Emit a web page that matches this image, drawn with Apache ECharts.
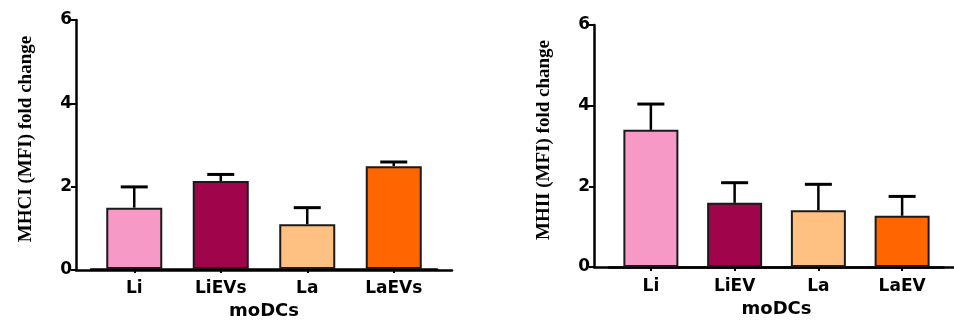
<!DOCTYPE html>
<html>
<head>
<meta charset="utf-8">
<script src="https://cdn.jsdelivr.net/npm/echarts@6/dist/echarts.min.js"></script>
<style>
html,body{margin:0;padding:0;background:#fff;}
#chart{width:954px;height:325px;}
</style>
</head>
<body>
<div id="chart"></div>
<script>
// ---- data ----
var categoriesA = ['Li', 'LiEVs', 'La', 'LaEVs'];
var valuesA = [1.48, 2.12, 1.08, 2.48];
var errorsA = [0.50, 0.16, 0.40, 0.10];
var categoriesB = ['Li', 'LiEV', 'La', 'LaEV'];
var valuesB = [3.40, 1.59, 1.41, 1.27];
var errorsB = [0.64, 0.50, 0.64, 0.48];
var barColors = ['#F799C7', '#A0044B', '#FFC182', '#FF6600'];
var yMin = 0, yMax = 6, yStep = 2;
var xName = 'moDCs';
var yNameA = 'MHCI (MFI) fold change';
var yNameB = 'MHII (MFI) fold change';

var chart = echarts.init(document.getElementById('chart'), null, {renderer: 'canvas'});

var sansBold = {fontFamily: 'DejaVu Sans, Liberation Sans, sans-serif', fontWeight: 'bold', color: '#000'};
var axisLine = {show: true, lineStyle: {color: '#000', width: 2.5}};

function outerY(gridIndex, name) {
  return {
    type: 'value', gridIndex: gridIndex, min: yMin, max: yMax, interval: yStep,
    splitLine: {show: false},
    axisLine: axisLine,
    axisTick: {show: true, length: 5, lineStyle: {color: '#000', width: 2}},
    axisLabel: Object.assign({fontSize: 17, margin: 4}, sansBold),
    name: name, nameLocation: 'middle', nameGap: 40, nameRotate: 90,
    nameTextStyle: {fontFamily: 'Liberation Serif, Times New Roman, serif', fontWeight: 'bold', fontSize: 19, color: '#000', padding: [0, 0, 0, 12]}
  };
}
function innerY(gridIndex) {
  return {type: 'value', gridIndex: gridIndex, min: yMin, max: yMax, interval: yStep, show: false, splitLine: {show: false}};
}
function outerX(gridIndex) {
  return {type: 'value', gridIndex: gridIndex, min: 0, max: 1, axisLine: axisLine, axisTick: {show: false}, axisLabel: {show: false}, splitLine: {show: false}};
}
function innerX(gridIndex, cats) {
  return {
    type: 'category', gridIndex: gridIndex, data: cats,
    axisLine: axisLine,
    axisTick: {show: true, alignWithLabel: true, length: 4, lineStyle: {color: '#000', width: 2}},
    axisLabel: Object.assign({fontSize: 17, margin: 11}, sansBold),
    name: xName, nameLocation: 'middle', nameGap: 31,
    nameTextStyle: Object.assign({fontSize: 18}, sansBold)
  };
}
function barSeries(xi, yi, vals, width) {
  return {
    type: 'bar', xAxisIndex: xi, yAxisIndex: yi, barWidth: width, z: 2,
    data: vals.map(function (v, i) {
      return {value: v, itemStyle: {color: barColors[i], borderColor: '#1a1a1a', borderWidth: 2}};
    })
  };
}
function errSeries(xi, yi, vals, errs) {
  return {
    type: 'custom', xAxisIndex: xi, yAxisIndex: yi, z: 1,
    data: vals.map(function (v, i) { return [i, v, v + errs[i]]; }),
    renderItem: function (params, api) {
      var base = api.coord([api.value(0), api.value(1)]);
      var top = api.coord([api.value(0), api.value(2)]);
      var half = 13.5;
      return {
        type: 'group',
        children: [
          {type: 'line', shape: {x1: base[0], y1: base[1], x2: top[0], y2: top[1]}, style: {stroke: '#000', lineWidth: 2.5}},
          {type: 'line', shape: {x1: top[0] - half, y1: top[1], x2: top[0] + half, y2: top[1]}, style: {stroke: '#000', lineWidth: 3}}
        ]
      };
    }
  };
}

var option = {
  backgroundColor: '#fff',
  animation: false,
  grid: [
    {left: 76, right: 502, top: 20, bottom: 55},
    {left: 91, right: 517, top: 20, bottom: 55},
    {left: 594, right: 0, top: 25, bottom: 58},
    {left: 609, right: 10, top: 25, bottom: 58}
  ],
  xAxis: [outerX(0), innerX(1, categoriesA), outerX(2), innerX(3, categoriesB)],
  yAxis: [outerY(0, yNameA), innerY(1), outerY(2, yNameB), innerY(3)],
  series: [
    errSeries(1, 1, valuesA, errorsA),
    barSeries(1, 1, valuesA, 56),
    errSeries(3, 3, valuesB, errorsB),
    barSeries(3, 3, valuesB, 55)
  ]
};
chart.setOption(option);
</script>
</body>
</html>
